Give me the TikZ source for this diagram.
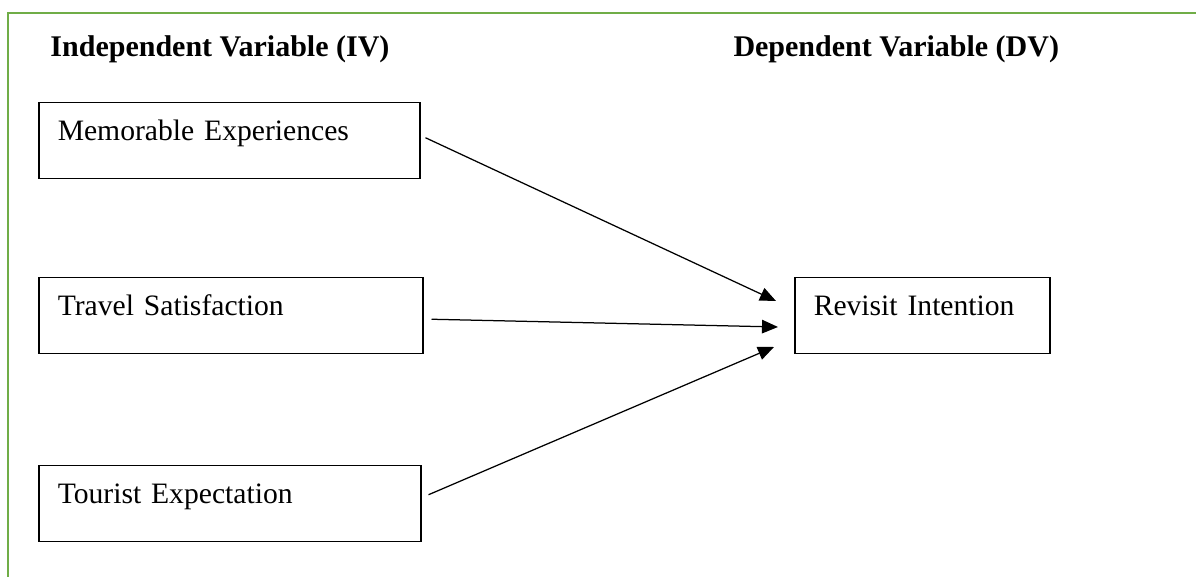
\documentclass[tikz,border=0pt]{standalone}
\usepackage{fontspec}
\setmainfont{Liberation Serif}
\usetikzlibrary{arrows.meta}
\definecolor{framegreen}{RGB}{112, 173, 71}

\begin{document}
\begin{tikzpicture}[x=0.4pt, y=-0.4pt, >={Triangle[length=6.4pt, width=5.4pt]},
  varbox/.style={draw, line width=0.6pt, anchor=north west, align=left,
    inner xsep=7.6pt, inner ysep=0pt, text height=4pt, text depth=4pt,
    minimum height=30.4pt, font=\fontsize{11.85}{14}\selectfont},
  heading/.style={anchor=base west, inner sep=0pt, font=\fontsize{12}{14}\selectfont\bfseries},
  link/.style={->, line width=0.5pt}]

  \useasboundingbox (0, 0) rectangle (1196, 577);

  % --- Green frame ---
  \coordinate (frameBL) at (8, 577);
  \coordinate (frameTL) at (8, 13);
  \coordinate (frameTR) at (1196, 13);
  \draw[framegreen, line width=1.1pt] (frameBL) -- (frameTL) -- (frameTR);

  % --- Headings ---
  \node[heading] (ivhead) at (50, 57) {Independent Variable (IV)};
  \node[heading] (dvhead) at (733, 57) {Dependent Variable (DV)};

  % --- Independent variables ---
  \node[varbox, text width=137.2pt] (mem) at (38, 102) {Memorable Experiences};
  \node[varbox, text width=138.4pt] (trav) at (38, 277) {Travel Satisfaction};
  \node[varbox, text width=137.6pt] (tour) at (38, 465) {Tourist Expectation};

  % --- Dependent variable ---
  \node[varbox, text width=86.8pt] (rev) at (794, 277) {Revisit Intention};

  % Arrow tips
  \coordinate (tipA) at (776, 301);
  \coordinate (tipB) at (778, 327);
  \coordinate (tipC) at (774, 347);

  % --- Links ---
  \draw[link] ([shift={(5, -3)}]mem.east) -- (tipA);
  \draw[link] ([shift={(8, 3.5)}]trav.east) -- (tipB);
  \draw[link] ([shift={(7, -9)}]tour.east) -- (tipC);

\end{tikzpicture}
\end{document}
